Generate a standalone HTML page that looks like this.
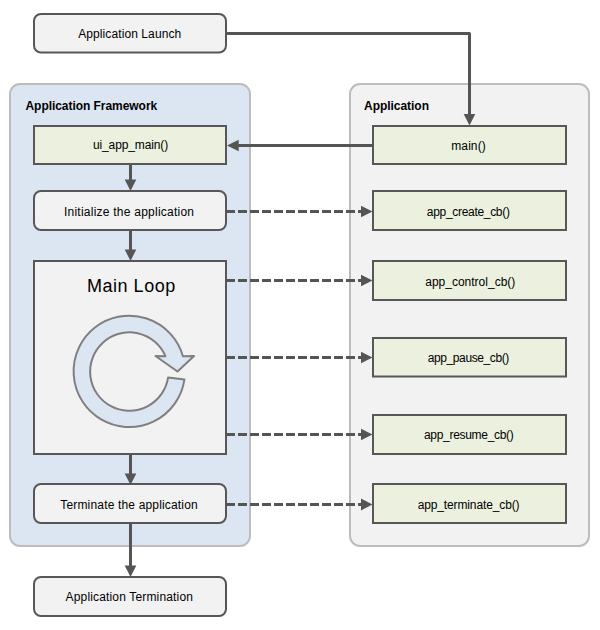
<!DOCTYPE html>
<html>
<head>
<meta charset="utf-8">
<style>
html,body{margin:0;padding:0;background:#fff;}
body{width:600px;height:630px;overflow:hidden;}
svg{display:block;}
text{font-family:"Liberation Sans", sans-serif;font-size:12px;fill:#000;}
.b{font-weight:bold;}
</style>
</head>
<body>
<svg width="600" height="630" viewBox="0 0 600 630">
  <!-- containers -->
  <rect x="10" y="84" width="240" height="462" rx="10" ry="10" fill="#dce6f2" stroke="#bdbdbd" stroke-width="2"/>
  <rect x="350" y="84" width="239" height="462" rx="10" ry="10" fill="#f2f2f2" stroke="#bdbdbd" stroke-width="2"/>
  <text class="b" x="25.5" y="110" textLength="131.7" lengthAdjust="spacing">Application Framework</text>
  <text class="b" x="364" y="110" textLength="65" lengthAdjust="spacing">Application</text>

  <!-- connectors -->
  <g stroke="#555" stroke-width="3" fill="none">
    <polyline points="227,33.5 469.5,33.5 469.5,115" stroke-linejoin="round"/>
    <line x1="372" y1="145.5" x2="237" y2="145.5"/>
    <line x1="130.5" y1="165" x2="130.5" y2="181"/>
    <line x1="130.5" y1="231" x2="130.5" y2="250"/>
    <line x1="130.5" y1="455" x2="130.5" y2="474"/>
    <line x1="130.5" y1="524" x2="130.5" y2="566"/>
  </g>
  <g stroke="#555" stroke-width="3" fill="none" stroke-dasharray="9 3">
    <line x1="226" y1="211.5" x2="362" y2="211.5"/>
    <line x1="226" y1="280.5" x2="362" y2="280.5"/>
    <line x1="226" y1="357.5" x2="362" y2="357.5"/>
    <line x1="226" y1="434.5" x2="362" y2="434.5"/>
    <line x1="226" y1="504.5" x2="362" y2="504.5"/>
  </g>
  <g fill="#555">
    <polygon points="463.7,114 475.3,114 469.5,125.5"/>
    <polygon points="238.7,139.7 238.7,151.3 227,145.5"/>
    <polygon points="124.7,179.5 136.3,179.5 130.5,191"/>
    <polygon points="124.7,249.5 136.3,249.5 130.5,261"/>
    <polygon points="124.7,473.5 136.3,473.5 130.5,485"/>
    <polygon points="124.7,565.5 136.3,565.5 130.5,577"/>
    <polygon points="361,205.7 361,217.3 372.5,211.5"/>
    <polygon points="361,274.7 361,286.3 372.5,280.5"/>
    <polygon points="361,351.7 361,363.3 372.5,357.5"/>
    <polygon points="361,428.7 361,440.3 372.5,434.5"/>
    <polygon points="361,498.6 361,510.4 372.5,504.5"/>
  </g>

  <!-- boxes -->
  <g stroke="#575757" stroke-width="2">
    <rect x="34" y="14" width="192" height="38.5" rx="7" ry="7" fill="#f2f2f2"/>
    <rect x="34" y="126" width="192" height="38" fill="#ebf1de"/>
    <rect x="34" y="191" width="192" height="39" rx="7" ry="7" fill="#f2f2f2"/>
    <rect x="34" y="261" width="192" height="193" fill="#f2f2f2"/>
    <rect x="34" y="484" width="192" height="39" rx="7" ry="7" fill="#f2f2f2"/>
    <rect x="34" y="577" width="192" height="39" rx="7" ry="7" fill="#f2f2f2"/>

    <rect x="373" y="126" width="193" height="38" fill="#ebf1de"/>
    <rect x="373" y="191" width="193" height="39" fill="#ebf1de"/>
    <rect x="373" y="261" width="193" height="39" fill="#ebf1de"/>
    <rect x="373" y="338" width="193" height="38.5" fill="#ebf1de"/>
    <rect x="373" y="415" width="193" height="39" fill="#ebf1de"/>
    <rect x="373" y="484" width="193" height="39" fill="#ebf1de"/>
  </g>

  <!-- circular arrow -->
  <path d="M184.4,379.6 A55.7,55.7 0 1 1 182.9,356.2 L194,356 L177.5,371.5 L155.5,356 L165.4,356.2 A39.2,39.2 0 1 0 168.1,377.4 Z" fill="#dce6f2" stroke="#7f7f7f" stroke-width="2" stroke-linejoin="round"/>

  <!-- texts -->
  <g text-anchor="middle">
    <text x="129.7" y="37.6" textLength="103" lengthAdjust="spacing">Application Launch</text>
    <text x="130.55" y="149" textLength="75.2" lengthAdjust="spacing">ui_app_main()</text>
    <text x="129" y="215.5" textLength="130.1" lengthAdjust="spacing">Initialize the application</text>
    <text x="131.1" y="292" style="font-size:18px" textLength="88.3" lengthAdjust="spacing">Main Loop</text>
    <text x="129" y="508.5" textLength="137.4" lengthAdjust="spacing">Terminate the application</text>
    <text x="129.25" y="600.5" textLength="127.4" lengthAdjust="spacing">Application Termination</text>

    <text x="468.5" y="150.2" textLength="34.4" lengthAdjust="spacing">main()</text>
    <text x="468.35" y="216.2" textLength="83.1" lengthAdjust="spacing">app_create_cb()</text>
    <text x="470.25" y="286.2" textLength="90.1" lengthAdjust="spacing">app_control_cb()</text>
    <text x="468.5" y="362.2" textLength="81.7" lengthAdjust="spacing">app_pause_cb()</text>
    <text x="468.85" y="439.2" textLength="89.8" lengthAdjust="spacing">app_resume_cb()</text>
    <text x="468.6" y="509.2" textLength="101.9" lengthAdjust="spacing">app_terminate_cb()</text>
  </g>
</svg>
</body>
</html>
